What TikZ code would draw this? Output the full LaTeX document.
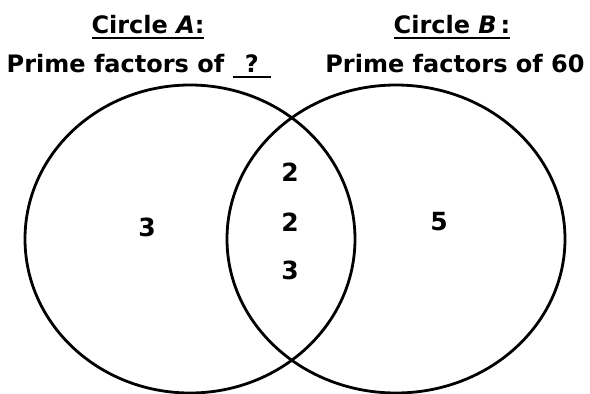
\documentclass[tikz,border=0pt]{standalone}
\usepackage{fontspec}
\setmainfont{DejaVu Sans}
\newcommand\thickul[1]{\setbox0\hbox{#1}\rlap{\rule[-6pt]{\wd0}{2.2pt}}\box0}
\begin{document}
\begin{tikzpicture}[x=1pt,y=-1pt,
  venn/.style={draw=black,line width=2.8pt},
  lbl/.style={font=\fontsize{24}{28}\selectfont\bfseries,inner sep=0pt,anchor=base},
  num/.style={font=\fontsize{25}{28}\selectfont\bfseries,inner sep=0pt}]
\useasboundingbox[fill=white] (0,0) rectangle (590,394);
\draw[venn] (190,239) ellipse [x radius=165, y radius=154];
\draw[venn] (396,239) ellipse [x radius=169, y radius=154];
\node[lbl] (ta) at (148,33) {\thickul{Circle \textit{A}:}};
\node[lbl] (pa) at (139,72) {Prime factors of \thickul{\ \,?\,\ }};
\node[lbl] (tb) at (452,33) {\thickul{Circle \textit{B}\,:}};
\node[lbl] (pb) at (455,72) {Prime factors of 60};
\node[num] (a3) at (147,227) {3};
\node[num] (m1) at (290,172) {2};
\node[num] (m2) at (290,222) {2};
\node[num] (m3) at (290,270) {3};
\node[num] (b5) at (439,222) {5};
\end{tikzpicture}
\end{document}
